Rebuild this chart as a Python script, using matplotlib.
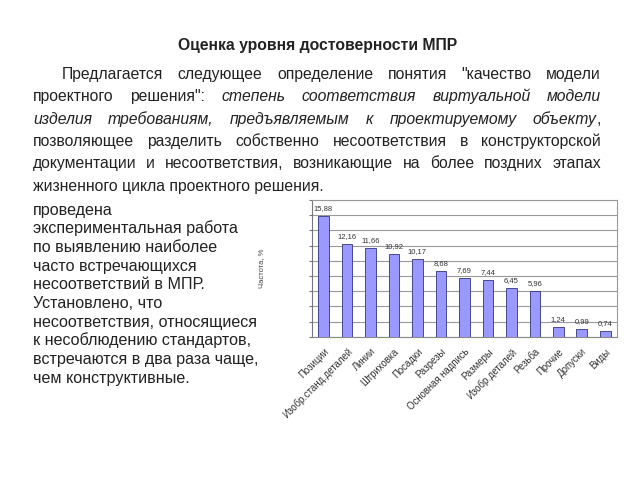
import matplotlib
matplotlib.use('Agg')
import matplotlib.pyplot as plt
import numpy as np

plt.rcParams['font.family'] = ['Liberation Sans', 'DejaVu Sans']

# ДАННЫЕ ДИАГРАММЫ
categories = ['Позиции', 'Изобр.станд.деталей', 'Линии', 'Штриховка', 'Посадки',
              'Разрезы', 'Основная надпись', 'Размеры', 'Изобр.деталей', 'Резьба',
              'Прочие', 'Допуски', 'Виды']
values = [15.88, 12.16, 11.66, 10.92, 10.17, 8.68, 7.69, 7.44, 6.45, 5.96, 1.24, 0.99, 0.74]
y_label = 'Частота, %'

title = 'Оценка уровня достоверности МПР'
# строки абзаца: слова, каждое слово - список (текст, курсив)
body_lines = [
    [[('Предлагается', False)], [('следующее', False)], [('определение', False)],
     [('понятия', False)], [('"качество', False)], [('модели', False)]],
    [[('проектного', False)], [('решения":', False)], [('степень', True)],
     [('соответствия', True)], [('виртуальной', True)], [('модели', True)]],
    [[('изделия', True)], [('требованиям,', True)], [('предъявляемым', True)],
     [('к', True)], [('проектируемому', True)], [('объекту', True), (',', False)]],
    [[(w, False)] for w in 'позволяющее разделить собственно несоответствия в конструкторской'.split()],
    [[(w, False)] for w in 'документации и несоответствия, возникающие на более поздних этапах'.split()],
]
last_line = 'жизненного цикла проектного решения.'
left_lines = ['проведена', 'экспериментальная работа', 'по выявлению наиболее',
              'часто встречающихся', 'несоответствий в МПР.', 'Установлено, что',
              'несоответствия, относящиеся', 'к несоблюдению стандартов,',
              'встречаются в два раза чаще,', 'чем конструктивные.']

#----------------------------------------
W, H = 640, 480
fig = plt.figure(figsize=(W / 100, H / 100), dpi=100)
renderer = fig.canvas.get_renderer()
txt_color = '#222222'
fs = 11.3


def fx(x):
    return x / W


def fy(y):
    return 1 - y / H


def draw_line(words, x0, x1, yb, size=fs):
    # выключка по ширине: слова по отдельности, пробелы растягиваются
    widths = []
    arts = []
    for word in words:
        parts = []
        w = 0
        for s, it in word:
            t = fig.text(0, 0, s, fontsize=size, style='italic' if it else 'normal',
                         color=txt_color, va='baseline', ha='left')
            parts.append((t, w))
            w += t.get_window_extent(renderer).width
        arts.append(parts)
        widths.append(w)
    sp = (x1 - x0 - sum(widths)) / (len(words) - 1)
    x = x0
    for parts, w in zip(arts, widths):
        for t, off in parts:
            t.set_position((fx(x + off), fy(yb)))
        x += w + sp


fig.text(fx(318), fy(50), title, ha='center', va='baseline', fontsize=fs,
         fontweight='bold', color=txt_color)

for i, words in enumerate(body_lines):
    x0 = 62 if i == 0 else 33
    draw_line(words, x0, 601, 79 + 22.3 * i)
fig.text(fx(33), fy(79 + 22.3 * len(body_lines)), last_line, fontsize=fs,
         color=txt_color, va='baseline', ha='left')

for i, s in enumerate(left_lines):
    fig.text(fx(33), fy(214.5 + 18.7 * i), s, fontsize=11.6, color=txt_color,
             va='baseline', ha='left')

#----------------------------------------
# ДИАГРАММА
ax = fig.add_axes([311.7 / W, 1 - 336.7 / H, (617 - 311.7) / W, (336.7 - 200) / H])
x = np.arange(len(values))
ax.bar(x, values, width=0.45, color='#9999ff', edgecolor='#33337a', linewidth=0.6, zorder=3)
for xi, v in zip(x, values):
    ax.annotate(f'{v:.2f}'.replace('.', ','), (xi, v), xytext=(0, 3), textcoords='offset points',
                ha='center', va='bottom', fontsize=5.5, color='#333333')

ax.set_xlim(-0.5, len(values) - 0.5)
ax.set_ylim(0, 18)
ax.set_yticks(np.arange(0, 19, 2))
ax.set_yticklabels([])
ax.yaxis.grid(True, color='#999999', linewidth=0.8, zorder=0)
ax.tick_params(axis='y', length=2, color='#777777')
ax.set_xticks(x)
ax.set_xticklabels(categories, rotation=45, ha='right', rotation_mode='anchor',
                   fontsize=6.9, color='#333333')
ax.tick_params(axis='x', length=0, pad=7)
for side in ['top', 'right']:
    ax.spines[side].set_color('#999999')
    ax.spines[side].set_linewidth(0.8)
ax.spines['left'].set_color('#777777')
ax.spines['bottom'].set_color('#888888')
ax.set_ylabel(y_label, fontsize=5.5, color='#444444', labelpad=28)

fig.savefig('out.png', dpi=100)
